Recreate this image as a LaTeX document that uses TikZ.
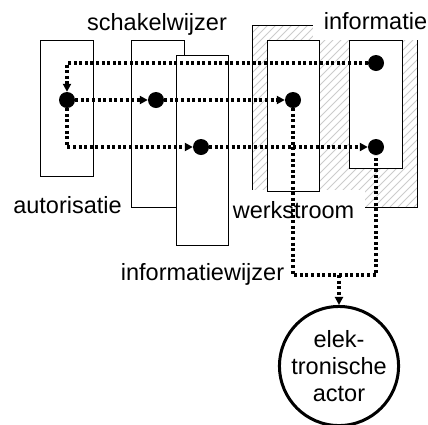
\documentclass[tikz,border=0pt]{standalone}
\usepackage{fontspec}
\setmainfont{Liberation Sans}
\usetikzlibrary{arrows.meta}
\tikzset{
  box/.style={draw, fill=white, line width=0.9pt, inner sep=0pt},
  grp/.style={fill=white, inner sep=11pt, anchor=base},
  lbl/.style={inner sep=0pt, anchor=base},
  hatch/.style={draw=black!20, line width=0.9pt},
  dot/.style={circle, fill=black, inner sep=0pt, minimum size=16pt},
  flow/.style={line width=3.3pt, dash pattern=on 3pt off 2.6pt},
  arr/.style={-{Triangle[length=8pt,width=8pt]}},
  actorc/.style={circle, draw, line width=3pt, minimum size=112pt, inner sep=0pt, align=center}
}
\begin{document}
\begin{tikzpicture}[x=1pt,y=-1pt,font=\fontsize{23.5}{27}\selectfont]
\useasboundingbox (0,0) rectangle (428,424);
% hatched group
\begin{scope}
  \clip (252,25) rectangle (417,207);
  \foreach \x in {62,70,...,420} \draw[hatch] (\x,207) -- ++(182,-182);
\end{scope}
\draw[line width=0.9pt] (252,25) rectangle (417,207);
\node[grp] (linfo) at (375.5,29) {informatie};
\node[grp] (lwerk) at (293.5,218) {werkstroom};
% boxes
\node[box, minimum width=53pt, minimum height=136pt] (baut) at (66.5,108) {};
\node[box, minimum width=53pt, minimum height=167pt] (bsch) at (157.5,123.5) {};
\node[box, minimum width=52pt, minimum height=190pt] (binf) at (202,150) {};
\node[box, minimum width=52pt, minimum height=151pt] (bwerk) at (293,115.5) {};
\node[box, minimum width=53pt, minimum height=128pt] (binfo) at (375.5,104) {};
% labels
\node[lbl] (lsch) at (157,30) {schakelwijzer};
\node[lbl] (laut) at (67.5,213) {autorisatie};
\node[lbl] (liw) at (202.5,280) {informatiewijzer};
% dots
\node[dot] (a1) at (67,100) {};
\node[dot] (s1) at (156,100) {};
\node[dot] (w1) at (293,100) {};
\node[dot] (i1) at (376,63) {};
\node[dot] (i2) at (376,147) {};
\node[dot] (iw1) at (201,147) {};
% actor
\node[actorc] (actor) at (339,366) {elek-\\tronische\\actor};
\coordinate (j) at (339,275);
% flows
\draw[flow,arr] (i1) -| (a1);
\draw[flow,arr] (a1) -- (s1);
\draw[flow,arr] (s1) -- (w1);
\draw[flow,arr] (a1) |- (iw1);
\draw[flow,arr] (iw1) -- (i2);
\draw[flow] (w1) |- (j) -| (i2);
\draw[flow,arr] (j) -- (actor);
\end{tikzpicture}
\end{document}
